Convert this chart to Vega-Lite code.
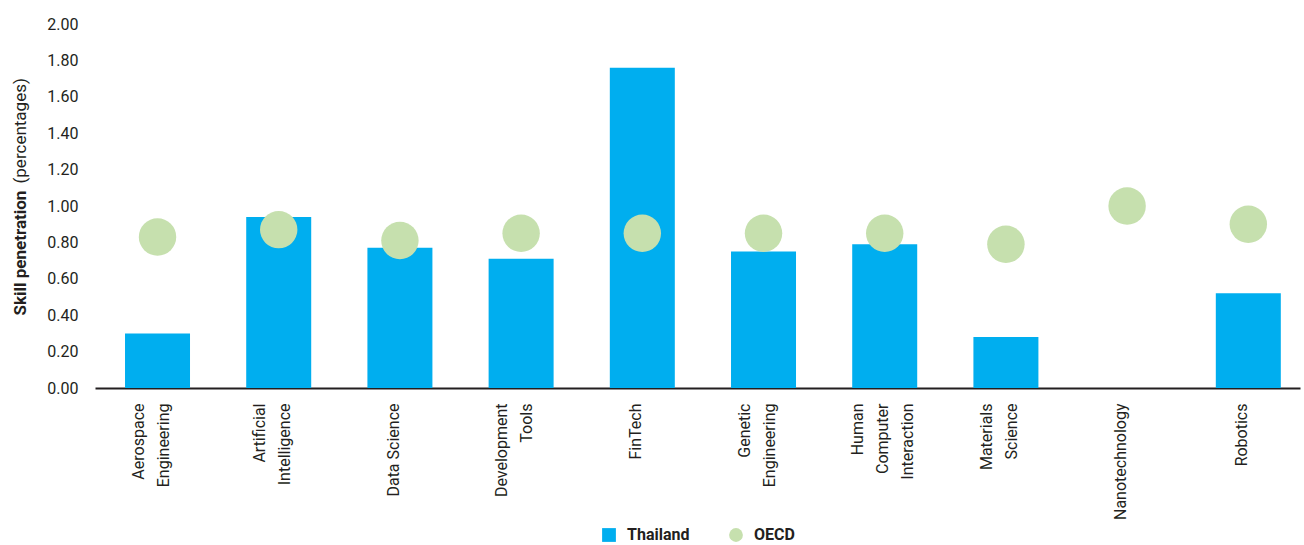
{
  "$schema": "https://vega.github.io/schema/vega-lite/v6.json",
  "width": 1205,
  "height": 364,
  "autosize": {"type": "none"},
  "padding": {"left": 95, "top": 24, "right": 4, "bottom": 157},
  "background": "white",
  "config": {
    "view": {"stroke": null},
    "font": "Roboto",
    "axis": {"labelFont": "Roboto", "titleFont": "Roboto", "labelColor": "#231F20", "titleColor": "#231F20"},
    "legend": {"labelFont": "Roboto"}
  },
  "data": {
    "values": [
      {"skill": "Aerospace\nEngineering", "series": "Thailand", "value": 0.30},
      {"skill": "Artificial\nIntelligence", "series": "Thailand", "value": 0.94},
      {"skill": "Data Science", "series": "Thailand", "value": 0.77},
      {"skill": "Development\nTools", "series": "Thailand", "value": 0.71},
      {"skill": "FinTech", "series": "Thailand", "value": 1.76},
      {"skill": "Genetic\nEngineering", "series": "Thailand", "value": 0.75},
      {"skill": "Human\nComputer\nInteraction", "series": "Thailand", "value": 0.79},
      {"skill": "Materials\nScience", "series": "Thailand", "value": 0.28},
      {"skill": "Robotics", "series": "Thailand", "value": 0.52},
      {"skill": "Aerospace\nEngineering", "series": "OECD", "value": 0.83},
      {"skill": "Artificial\nIntelligence", "series": "OECD", "value": 0.87},
      {"skill": "Data Science", "series": "OECD", "value": 0.81},
      {"skill": "Development\nTools", "series": "OECD", "value": 0.85},
      {"skill": "FinTech", "series": "OECD", "value": 0.85},
      {"skill": "Genetic\nEngineering", "series": "OECD", "value": 0.85},
      {"skill": "Human\nComputer\nInteraction", "series": "OECD", "value": 0.85},
      {"skill": "Materials\nScience", "series": "OECD", "value": 0.79},
      {"skill": "Nanotechnology", "series": "OECD", "value": 1.00},
      {"skill": "Robotics", "series": "OECD", "value": 0.90}
    ]
  },
  "encoding": {
    "x": {
      "field": "skill",
      "type": "nominal",
      "sort": ["Aerospace\nEngineering", "Artificial\nIntelligence", "Data Science", "Development\nTools", "FinTech", "Genetic\nEngineering", "Human\nComputer\nInteraction", "Materials\nScience", "Nanotechnology", "Robotics"],
      "scale": {"paddingInner": 0.4637, "paddingOuter": 0.203, "align": 0.61},
      "axis": {
        "title": null,
        "labelAngle": -90,
        "labelAlign": "right",
        "labelBaseline": "middle",
        "labelExpr": "split(datum.label, '\\n')",
        "labelFontSize": 16,
        "labelLineHeight": 25,
        "labelPadding": 15,
        "labelOffset": {
          "condition": [
            {"test": "length(split(datum.value, '\\n')) == 3", "value": -27},
            {"test": "length(split(datum.value, '\\n')) == 2", "value": -19}
          ],
          "value": -6
        },
        "ticks": false,
        "domainColor": "#231F20",
        "domainWidth": 2,
        "grid": false
      }
    },
    "color": {
      "field": "series",
      "type": "nominal",
      "scale": {"domain": ["Thailand", "OECD"], "range": ["#00AEEF", "#C6E0AE"]},
      "legend": {
        "title": null,
        "orient": "none",
        "direction": "horizontal",
        "legendX": 506,
        "legendY": 503,
        "labelFontSize": 16,
        "labelFontWeight": "bold",
        "labelColor": "#231F20",
        "symbolSize": 190,
        "symbolOpacity": 1,
        "columnPadding": 38,
        "labelOffset": 10,
        "encode": {"symbols": {"update": {"shape": {"signal": "datum.value === 'Thailand' ? 'square' : 'circle'"}, "opacity": {"value": 1}}}}
      }
    }
  },
  "layer": [
    {
      "transform": [{"filter": "datum.series === 'Thailand'"}],
      "mark": {"type": "bar"},
      "encoding": {
        "y": {
          "field": "value",
          "type": "quantitative",
          "scale": {"domain": [0, 2], "nice": false},
          "axis": {
            "title": "Skill penetration",
            "titleFontWeight": "bold",
            "titleFontSize": 17,
            "titleX": -75,
            "titleY": 291,
            "titleAlign": "left",
            "titleBaseline": "middle",
            "titleAngle": -90,
            "values": [0, 0.2, 0.4, 0.6, 0.8, 1.0, 1.2, 1.4, 1.6, 1.8, 2.0],
            "format": ".2f",
            "labelFontSize": 16,
            "labelPadding": 17,
            "ticks": false,
            "domain": false,
            "grid": false
          }
        }
      }
    },
    {
      "transform": [{"filter": "datum.series === 'OECD'"}],
      "mark": {"type": "point", "filled": true, "opacity": 1, "size": 1400, "shape": "circle"},
      "encoding": {
        "y": {
          "field": "value",
          "type": "quantitative",
          "axis": {
            "orient": "left",
            "title": "(percentages)",
            "titleFontWeight": "normal",
            "titleFontSize": 17,
            "titleX": -75,
            "titleY": 159,
            "titleAlign": "left",
            "titleBaseline": "middle",
            "titleAngle": -90,
            "labels": false,
            "ticks": false,
            "domain": false,
            "grid": false
          }
        }
      }
    }
  ],
  "resolve": {"axis": {"y": "independent"}}
}
